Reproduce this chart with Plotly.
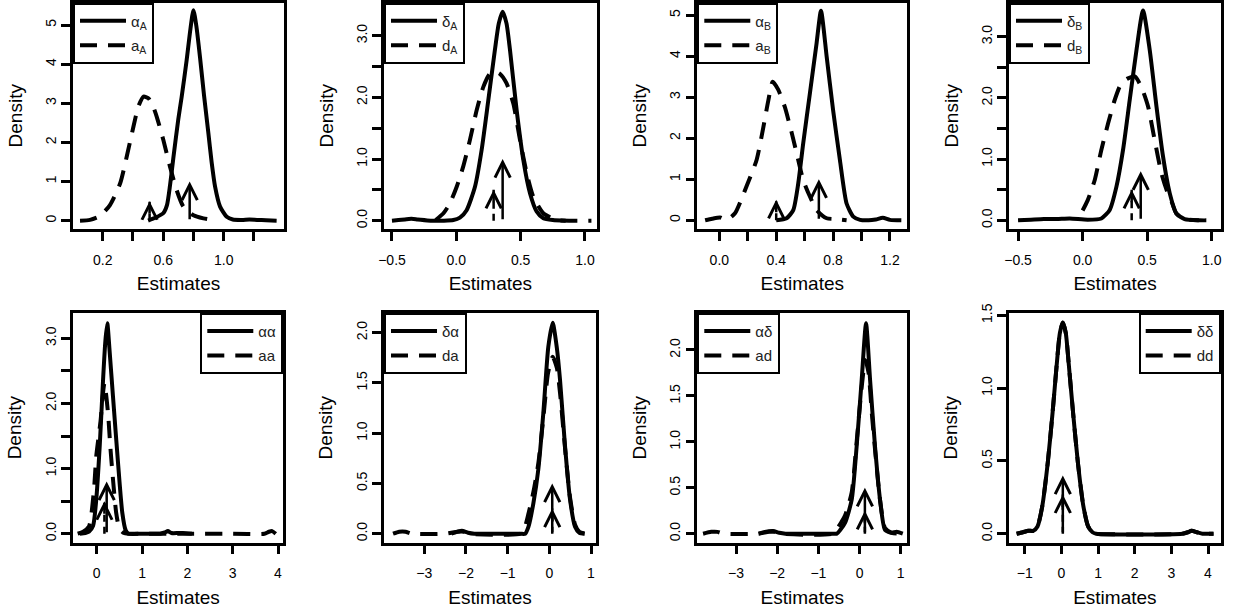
import plotly.graph_objects as go

W, H = 1238, 613

# ---------------- data ----------------
# Panel 1: alpha_A (solid) / a_A (dashed)
p1_solid_x = [0.50, 0.55, 0.60, 0.625, 0.645, 0.667, 0.70, 0.722, 0.755, 0.78, 0.80, 0.82, 0.843, 0.87, 0.899, 0.92, 0.943, 0.976, 1.02, 1.06, 1.12, 1.17, 1.22, 1.28, 1.35]
p1_solid_y = [0, 0.08, 0.19, 0.4, 0.9, 1.6, 2.6, 3.16, 4.1, 4.9, 5.38, 4.95, 4.19, 3.2, 2.23, 1.5, 0.87, 0.36, 0.1, 0.03, 0.02, 0.03, 0.02, 0.01, 0]
p1_dash_x = [0.05, 0.116, 0.182, 0.248, 0.315, 0.359, 0.403, 0.436, 0.47, 0.502, 0.53, 0.557, 0.601, 0.645, 0.689, 0.733, 0.8, 0.866, 0.954]
p1_dash_y = [0, 0.02, 0.12, 0.4, 0.95, 1.64, 2.4, 2.92, 3.17, 3.13, 2.95, 2.66, 2.06, 1.38, 0.78, 0.36, 0.14, 0.06, 0]

# Panel 2: delta_A / d_A
p2_solid_x = [-0.5, -0.45, -0.4, -0.35, -0.3, -0.2, -0.1, -0.023, 0.028, 0.08, 0.145, 0.197, 0.249, 0.30, 0.33, 0.36, 0.39, 0.417, 0.469, 0.521, 0.573, 0.624, 0.676, 0.75, 0.85]
p2_solid_y = [0, 0.01, 0.02, 0.03, 0.02, 0, 0, 0.01, 0.05, 0.17, 0.55, 1.15, 1.96, 2.77, 3.2, 3.39, 3.2, 2.77, 1.79, 0.98, 0.44, 0.15, 0.04, 0.01, 0]
p2_dash_x = [-0.16, -0.1, -0.05, 0.003, 0.054, 0.106, 0.158, 0.21, 0.26, 0.30, 0.34, 0.39, 0.443, 0.495, 0.547, 0.598, 0.676, 0.78, 0.9, 1.05]
p2_dash_y = [0.01, 0.12, 0.28, 0.55, 0.88, 1.31, 1.79, 2.17, 2.38, 2.42, 2.38, 2.23, 1.9, 1.31, 0.77, 0.39, 0.12, 0.01, 0, 0]

# Panel 3: alpha_B / a_B
p3_solid_x = [0.40, 0.473, 0.52, 0.555, 0.59, 0.637, 0.684, 0.715, 0.755, 0.80, 0.848, 0.895, 0.942, 0.99, 1.05, 1.1, 1.15, 1.2, 1.28]
p3_solid_y = [0, 0.05, 0.25, 0.9, 1.88, 3.1, 4.32, 5.11, 3.99, 2.69, 1.47, 0.41, 0.09, 0.01, 0, 0.02, 0.06, 0.01, 0]
p3_dash_x = [-0.1, -0.05, 0.005, 0.05, 0.11, 0.19, 0.262, 0.31, 0.345, 0.375, 0.415, 0.46, 0.51, 0.555, 0.59, 0.637, 0.684, 0.755, 0.82, 0.895]
p3_dash_y = [0, 0.04, 0.07, 0.01, 0.17, 0.82, 1.47, 2.28, 2.93, 3.38, 3.18, 2.77, 2.12, 1.47, 0.98, 0.58, 0.25, 0.05, 0.03, 0]

# Panel 4: delta_B / d_B
p4_solid_x = [-0.5, -0.4, -0.3, -0.2, -0.1, 0.04, 0.145, 0.21, 0.262, 0.313, 0.365, 0.417, 0.468, 0.52, 0.572, 0.623, 0.675, 0.726, 0.79, 0.9]
p4_solid_y = [0, 0.01, 0.02, 0.02, 0.03, 0.01, 0.03, 0.17, 0.55, 1.15, 1.97, 2.78, 3.43, 2.78, 1.86, 1.04, 0.44, 0.11, 0.02, 0]
p4_dash_x = [0.0, 0.04, 0.094, 0.145, 0.197, 0.249, 0.30, 0.352, 0.404, 0.455, 0.507, 0.558, 0.61, 0.65, 0.69, 0.726, 0.79, 0.9, 1.02]
p4_dash_y = [0.16, 0.33, 0.66, 1.15, 1.58, 1.97, 2.24, 2.32, 2.35, 2.18, 1.86, 1.31, 0.77, 0.5, 0.3, 0.11, 0.02, 0, 0]

# Panel 5: alpha-alpha / aa
p5_solid_x = [-0.37, -0.25, -0.17, -0.08, -0.01, 0.066, 0.14, 0.19, 0.234, 0.28, 0.36, 0.47, 0.565, 0.64, 0.7, 1.0, 1.4, 1.5, 1.57, 1.65, 1.8, 1.9, 2.1]
p5_solid_y = [0, 0.01, 0.03, 0.12, 0.52, 1.34, 2.36, 2.95, 3.23, 2.85, 2.1, 1.09, 0.32, 0.05, 0, 0, 0, 0.02, 0.04, 0.01, 0.01, 0.01, 0]
p5_dash_x = [-0.42, -0.3, -0.17, -0.06, -0.01, 0.08, 0.17, 0.25, 0.30, 0.36, 0.43, 0.5, 0.6, 0.7, 1.0, 2.0, 3.0, 3.7, 3.8, 3.87, 3.95]
p5_dash_y = [0, 0.03, 0.11, 0.68, 1.19, 1.70, 2.31, 1.85, 1.34, 0.83, 0.32, 0.08, 0.01, 0, 0, 0, 0, 0, 0.03, 0.04, 0]

# Panel 6: delta-alpha / da
p6_solid_x = [-2.35, -2.2, -2.1, -1.95, -1.8, -0.7, -0.58, -0.5, -0.384, -0.264, -0.144, -0.024, 0.08, 0.18, 0.257, 0.377, 0.497, 0.617, 0.72, 0.85]
p6_solid_y = [0, 0.02, 0.03, 0.01, 0, 0, 0, 0.07, 0.3, 0.64, 1.2, 1.86, 2.10, 1.85, 1.53, 0.87, 0.34, 0.07, 0.01, 0]
p6_dash_x = [-3.75, -3.6, -3.45, -3.3, -2.5, -2.2, -2.05, -1.9, -0.7, -0.6, -0.5, -0.38, -0.264, -0.144, -0.03, 0.08, 0.18, 0.257, 0.377, 0.497, 0.617, 0.72, 0.85]
p6_dash_y = [0, 0.02, 0.02, 0, 0, 0.02, 0.02, 0, 0, 0.05, 0.2, 0.42, 0.7, 1.15, 1.6, 1.76, 1.65, 1.4, 0.85, 0.36, 0.09, 0.02, 0]

# Panel 7: alpha-delta / ad
p7_solid_x = [-2.45, -2.3, -2.1, -1.95, -1.8, -0.65, -0.55, -0.47, -0.35, -0.19, -0.07, 0.053, 0.158, 0.255, 0.376, 0.498, 0.62, 0.78, 0.9, 1.05]
p7_solid_y = [0, 0.02, 0.03, 0.01, 0, 0, 0, 0.04, 0.12, 0.37, 0.95, 1.68, 2.29, 1.68, 0.95, 0.37, 0.04, 0.01, 0.02, 0]
p7_dash_x = [-3.8, -3.6, -3.45, -3.3, -2.45, -2.2, -2.05, -1.9, -0.65, -0.55, -0.45, -0.35, -0.19, -0.07, 0.053, 0.14, 0.22, 0.3, 0.4, 0.5, 0.62, 0.78, 1.05]
p7_dash_y = [0, 0.02, 0.02, 0, 0, 0.02, 0.02, 0, 0, 0.05, 0.12, 0.2, 0.45, 1.0, 1.6, 1.89, 1.75, 1.3, 0.8, 0.36, 0.06, 0.01, 0]

# Panel 8: delta-delta / dd
p8_solid_x = [-1.22, -1.05, -0.9, -0.77, -0.65, -0.52, -0.37, -0.24, -0.12, -0.04, 0.04, 0.12, 0.2, 0.32, 0.45, 0.6, 0.73, 0.85, 0.95, 3.3, 3.45, 3.55, 3.7, 3.85, 4.15]
p8_solid_y = [0, 0.01, 0.02, 0.02, 0.05, 0.19, 0.49, 0.83, 1.18, 1.38, 1.45, 1.38, 1.17, 0.83, 0.49, 0.19, 0.05, 0.01, 0, 0, 0.01, 0.02, 0.01, 0, 0]
p8_dash_x = [-1.22, -1.05, -0.9, -0.77, -0.65, -0.52, -0.37, -0.24, -0.12, -0.04, 0.04, 0.12, 0.2, 0.32, 0.45, 0.6, 0.73, 0.85, 0.95, 3.3, 3.45, 3.55, 3.7, 3.85, 4.15]
p8_dash_y = [0, 0.01, 0.02, 0.02, 0.05, 0.19, 0.49, 0.83, 1.18, 1.38, 1.45, 1.38, 1.17, 0.83, 0.49, 0.19, 0.05, 0.01, 0, 0, 0.01, 0.02, 0.01, 0, 0]

# true values (arrows) and arrow heights
true_solid = [0.775, 0.36, 0.70, 0.45, 0.22, 0.07, 0.13, 0.04]
true_dash = [0.51, 0.29, 0.40, 0.38, 0.17, 0.07, 0.13, 0.04]
arrow_h_solid = [1.0, 1.0, 1.0, 0.8, 0.8, 0.5, 0.5, 0.4]
arrow_h_dash = [0.5, 0.5, 0.5, 0.5, 0.5, 0.25, 0.25, 0.27]

# legend labels
labels_solid = ["α<sub>A</sub>", "δ<sub>A</sub>", "α<sub>B</sub>", "δ<sub>B</sub>", "αα", "δα", "αδ", "δδ"]
labels_dash = ["a<sub>A</sub>", "d<sub>A</sub>", "a<sub>B</sub>", "d<sub>B</sub>", "aa", "da", "ad", "dd"]

# tick values / labels
x_tickvals = [
    [0.2, 0.4, 0.6, 0.8, 1.0, 1.2],
    [-0.5, 0.0, 0.5, 1.0],
    [0.0, 0.2, 0.4, 0.6, 0.8, 1.0, 1.2],
    [-0.5, 0.0, 0.5, 1.0],
    [0, 1, 2, 3, 4],
    [-3, -2, -1, 0, 1],
    [-3, -2, -1, 0, 1],
    [-1, 0, 1, 2, 3, 4],
]
x_ticktext = [
    ["0.2", "", "0.6", "", "1.0", ""],
    ["−0.5", "0.0", "0.5", "1.0"],
    ["0.0", "", "0.4", "", "0.8", "", "1.2"],
    ["−0.5", "0.0", "0.5", "1.0"],
    ["0", "1", "2", "3", "4"],
    ["−3", "−2", "−1", "0", "1"],
    ["−3", "−2", "−1", "0", "1"],
    ["−1", "0", "1", "2", "3", "4"],
]
y_tickvals = [
    [0, 1, 2, 3, 4, 5],
    [0, 0.5, 1.0, 1.5, 2.0, 2.5, 3.0],
    [0, 1, 2, 3, 4, 5],
    [0, 0.5, 1.0, 1.5, 2.0, 2.5, 3.0],
    [0, 0.5, 1.0, 1.5, 2.0, 2.5, 3.0],
    [0, 0.5, 1.0, 1.5, 2.0],
    [0, 0.5, 1.0, 1.5, 2.0],
    [0, 0.5, 1.0, 1.5],
]
y_ticktext = [
    ["0", "1", "2", "3", "4", "5"],
    ["0.0", "", "1.0", "", "2.0", "", "3.0"],
    ["0", "1", "2", "3", "4", "5"],
    ["0.0", "", "1.0", "", "2.0", "", "3.0"],
    ["0.0", "", "1.0", "", "2.0", "", "3.0"],
    ["0.0", "0.5", "1.0", "1.5", "2.0"],
    ["0.0", "0.5", "1.0", "1.5", "2.0"],
    ["0.0", "0.5", "1.0", "1.5"],
]

x_ranges = [[0.0036, 1.3987], [-0.562, 1.091], [-0.155, 1.322], [-0.570, 1.074],
            [-0.523, 4.117], [-3.967, 1.12], [-3.94, 1.16], [-1.428, 4.346]]
y_ranges = [[-0.212, 5.575], [-0.135, 3.538], [-0.212, 5.312], [-0.142, 3.559],
            [-0.138, 3.393], [-0.0896, 2.199], [-0.098, 2.406], [-0.0618, 1.518]]

solid_x = [p1_solid_x, p2_solid_x, p3_solid_x, p4_solid_x, p5_solid_x, p6_solid_x, p7_solid_x, p8_solid_x]
solid_y = [p1_solid_y, p2_solid_y, p3_solid_y, p4_solid_y, p5_solid_y, p6_solid_y, p7_solid_y, p8_solid_y]
dash_x = [p1_dash_x, p2_dash_x, p3_dash_x, p4_dash_x, p5_dash_x, p6_dash_x, p7_dash_x, p8_dash_x]
dash_y = [p1_dash_y, p2_dash_y, p3_dash_y, p4_dash_y, p5_dash_y, p6_dash_y, p7_dash_y, p8_dash_y]

# ---------------- layout geometry (pixels) ----------------
col_px = [(73, 284), (384, 596.7), (697.3, 907.3), (1009, 1221.3),
          (73, 283.3), (384, 596), (697.3, 907.3), (1009, 1220.7)]
row_px = [(2.5, 229)] * 4 + [(312.7, 542.7)] * 4
legend_right = [False, False, False, False, True, False, False, True]

FONT = "Liberation Sans, Arial, sans-serif"
DASH = "17px,11px"
LW = 4

fig = go.Figure()
layout = dict(
    width=W, height=H,
    margin=dict(l=0, r=0, t=0, b=0),
    paper_bgcolor="white", plot_bgcolor="white",
    font=dict(family=FONT, color="black"),
    showlegend=True,
)
annotations = []

for i in range(8):
    k = "" if i == 0 else str(i + 1)
    xa, ya = "x" + k, "y" + k
    leg = "legend" + k
    x0, x1 = col_px[i]
    y0, y1 = row_px[i]

    fig.add_trace(go.Scatter(x=solid_x[i], y=solid_y[i], mode="lines", xaxis=xa, yaxis=ya,
                             line=dict(color="black", width=LW, shape="spline", smoothing=0.6),
                             name=labels_solid[i], legend=leg, legendgroup="s%d" % i))
    fig.add_trace(go.Scatter(x=dash_x[i], y=dash_y[i], mode="lines", xaxis=xa, yaxis=ya,
                             line=dict(color="black", width=LW, dash=DASH, shape="spline", smoothing=0.6),
                             name=labels_dash[i], legend=leg, legendgroup="d%d" % i))
    # dashed arrow shaft
    fig.add_trace(go.Scatter(x=[true_dash[i], true_dash[i]], y=[0, arrow_h_dash[i]], mode="lines",
                             xaxis=xa, yaxis=ya, showlegend=False, hoverinfo="skip",
                             line=dict(color="black", width=2.5, dash="7px,5px")))
    # solid arrow (full shaft)
    annotations.append(dict(x=true_solid[i], y=arrow_h_solid[i], xref=xa, yref=ya,
                            ax=true_solid[i], ay=0, axref=xa, ayref=ya, text="",
                            showarrow=True, arrowhead=5, arrowwidth=2.5, arrowsize=1.2,
                            arrowcolor="black"))
    # dashed arrow head
    annotations.append(dict(x=true_dash[i], y=arrow_h_dash[i], xref=xa, yref=ya,
                            ax=0, ay=14, text="",
                            showarrow=True, arrowhead=5, arrowwidth=2.5, arrowsize=1.2,
                            arrowcolor="black"))

    axis_common = dict(showline=True, mirror=True, linecolor="black", linewidth=2.5,
                       ticks="outside", ticklen=9, tickwidth=2.5, tickcolor="black",
                       showgrid=False, zeroline=False, automargin=False,
                       tickfont=dict(family=FONT, size=14, color="black"))
    layout["xaxis" + k] = dict(axis_common, domain=[x0 / W, x1 / W], range=x_ranges[i],
                               anchor=ya, tickmode="array", tickvals=x_tickvals[i],
                               ticktext=x_ticktext[i], ticklabelstandoff=7,
                               title=dict(text="Estimates", font=dict(family=FONT, size=19),
                                          standoff=11))
    layout["yaxis" + k] = dict(axis_common, domain=[1 - y1 / H, 1 - y0 / H], range=y_ranges[i],
                               anchor=xa, tickmode="array", tickvals=y_tickvals[i],
                               ticktext=y_ticktext[i], tickangle=-90, ticklabelstandoff=0,
                               title=dict(text="Density", font=dict(family=FONT, size=19),
                                          standoff=16))
    layout[leg] = dict(
        x=(x1 / W) if legend_right[i] else (x0 / W),
        xanchor="right" if legend_right[i] else "left",
        y=1 - y0 / H, yanchor="top",
        bordercolor="black", borderwidth=2, bgcolor="white",
        font=dict(family=FONT, size=15, color="#222"),
        tracegroupgap=2, itemwidth=46, itemclick=False, itemdoubleclick=False,
    )

layout["annotations"] = annotations
fig.update_layout(**layout)
fig.write_html("out.html")
